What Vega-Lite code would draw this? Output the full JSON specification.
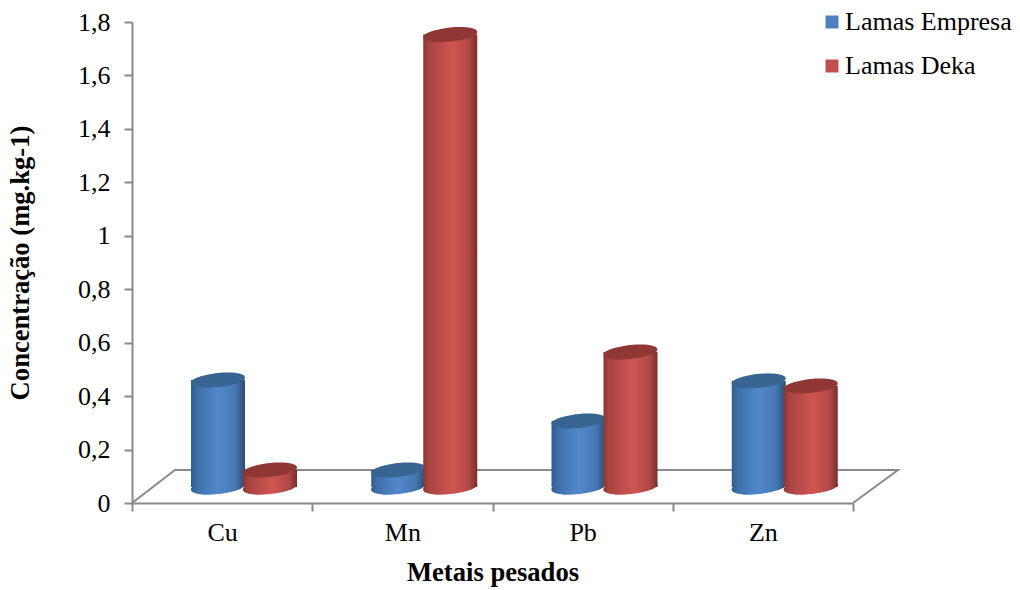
{
"$schema":"https://vega.github.io/schema/vega-lite/v6.json",
"autosize":{"type":"none"},
"padding":{"left":132,"top":22,"right":167,"bottom":87},
"width":721,"height":481,
"background":"white",
"config":{"view":{"stroke":null},"font":"Liberation Serif"},
"datasets":{
"bars":[
{"metal":"Cu","series":"Lamas Empresa","value":0.46},
{"metal":"Cu","series":"Lamas Deka","value":0.1235},
{"metal":"Mn","series":"Lamas Empresa","value":0.1235},
{"metal":"Mn","series":"Lamas Deka","value":1.753},
{"metal":"Pb","series":"Lamas Empresa","value":0.307},
{"metal":"Pb","series":"Lamas Deka","value":0.565},
{"metal":"Zn","series":"Lamas Empresa","value":0.457},
{"metal":"Zn","series":"Lamas Deka","value":0.438}
],
"floor":[
{"step":1,"fx":0,"fy":0},
{"step":2,"fx":0.0596,"fy":0.1236},
{"step":3,"fx":1.0624,"fy":0.1236},
{"step":4,"fx":1,"fy":0}
]
},
"resolve":{"scale":{"x":"independent"}},
"layer":[
{
"data":{"name":"floor"},
"mark":{"type":"line","color":"#8a8a8a","strokeWidth":2,"clip":false},
"encoding":{
"x":{"field":"fx","type":"quantitative","scale":{"domain":[0,1],"zero":false,"nice":false},"axis":null},
"y":{"field":"fy","type":"quantitative","scale":{"domain":[0,1.8],"nice":false},
"title":"Concentração (mg.kg-1)",
"axis":{"values":[0,0.2,0.4,0.6,0.8,1,1.2,1.4,1.6,1.8],"labelExpr":"replace(format(datum.value,'.1~f'),'.',',')","labelFontSize":26,"labelColor":"#000000","labelPadding":14,"labelFont":"Liberation Serif","titleFont":"Liberation Serif","titleFontSize":26.6,"titleFontWeight":"bold","titleColor":"#000000","titlePadding":43,"tickSize":8,"tickWidth":2,"tickColor":"#8a8a8a","domainColor":"#8a8a8a","domainWidth":2,"grid":false}},
"order":{"field":"step"}
}
},
{
"data":{"name":"bars"},
"encoding":{
"x":{"field":"metal","type":"nominal","sort":["Cu","Mn","Pb","Zn"],"scale":{"paddingInner":0,"paddingOuter":0},
"title":"Metais pesados",
"axis":{"labelAngle":0,"labelFontSize":26,"labelColor":"#000000","labelPadding":8,"labelFont":"Liberation Serif","titleFont":"Liberation Serif","titleFontSize":26.6,"titleFontWeight":"bold","titleColor":"#000000","titlePadding":14,"tickBand":"extent","tickSize":8,"tickWidth":2,"tickColor":"#8a8a8a","domainColor":"#8a8a8a","domainWidth":2,"grid":false}},
"xOffset":{"field":"series","type":"nominal","sort":["Lamas Empresa","Lamas Deka"],"scale":{"range":[60,164],"paddingInner":0,"paddingOuter":0}},
"y":{"field":"value","type":"quantitative","title":"Concentração (mg.kg-1)"}
},
"layer":[
{
"mark":{"type":"point","filled":true,"size":2916,"opacity":1,"shape":"M-1,0.09C-1,-0.05,-0.55,-0.2,0,-0.26C0.55,-0.31,1,-0.25,1,-0.09C1,0.05,0.55,0.2,0,0.26C-0.55,0.31,-1,0.25,-1,0.09Z"},
"encoding":{
"y":{"datum":0.06},
"color":{"field":"series","type":"nominal","sort":["Lamas Empresa","Lamas Deka"],"scale":{"domain":["Lamas Empresa","Lamas Deka"],"range":["#4f81bd","#c0504d"]},
"legend":{"title":null,"orient":"none","legendX":687,"legendY":-13,"symbolType":"square","symbolSize":169,"symbolOpacity":1,"labelFontSize":26,"labelLimit":400,"labelColor":"#000000","rowPadding":18,"labelOffset":0,"labelFont":"Liberation Serif"}}
}
},
{
"transform":[{"filter":"datum.series === 'Lamas Empresa'"}],
"mark":{"type":"bar","width":54,"color":{"gradient":"linear","x1":0,"x2":1,"y1":0,"y2":0,"stops":[{"offset":0,"color":"#2f5c92"},{"offset":0.12,"color":"#3f70ab"},{"offset":0.5,"color":"#5288c9"},{"offset":0.82,"color":"#4677b2"},{"offset":1,"color":"#2c4d75"}]}},
"encoding":{"y2":{"datum":0.06}}
},
{
"transform":[{"filter":"datum.series === 'Lamas Empresa'"}],
"mark":{"type":"point","filled":true,"size":2916,"opacity":1,"color":{"gradient":"linear","x1":0,"x2":1,"y1":0,"y2":0,"stops":[{"offset":0,"color":"#2f5c92"},{"offset":0.12,"color":"#3f70ab"},{"offset":0.5,"color":"#5288c9"},{"offset":0.82,"color":"#4677b2"},{"offset":1,"color":"#2c4d75"}]},"shape":"M-1,0.09C-1,-0.05,-0.55,-0.2,0,-0.26C0.55,-0.31,1,-0.25,1,-0.09C1,0.05,0.55,0.2,0,0.26C-0.55,0.31,-1,0.25,-1,0.09Z"},
"encoding":{"y":{"datum":0.06}}
},
{
"transform":[{"filter":"datum.series === 'Lamas Empresa'"}],
"mark":{"type":"point","filled":true,"size":2916,"opacity":1,"color":"#386492","shape":"M-1,0.09C-1,-0.05,-0.55,-0.2,0,-0.26C0.55,-0.31,1,-0.25,1,-0.09C1,0.05,0.55,0.2,0,0.26C-0.55,0.31,-1,0.25,-1,0.09Z"}
},
{
"transform":[{"filter":"datum.series === 'Lamas Deka'"}],
"mark":{"type":"bar","width":54,"color":{"gradient":"linear","x1":0,"x2":1,"y1":0,"y2":0,"stops":[{"offset":0,"color":"#8c3533"},{"offset":0.1,"color":"#a84441"},{"offset":0.55,"color":"#cf5652"},{"offset":0.85,"color":"#b04845"},{"offset":1,"color":"#7a2e2c"}]}},
"encoding":{"y2":{"datum":0.06}}
},
{
"transform":[{"filter":"datum.series === 'Lamas Deka'"}],
"mark":{"type":"point","filled":true,"size":2916,"opacity":1,"color":{"gradient":"linear","x1":0,"x2":1,"y1":0,"y2":0,"stops":[{"offset":0,"color":"#8c3533"},{"offset":0.1,"color":"#a84441"},{"offset":0.55,"color":"#cf5652"},{"offset":0.85,"color":"#b04845"},{"offset":1,"color":"#7a2e2c"}]},"shape":"M-1,0.09C-1,-0.05,-0.55,-0.2,0,-0.26C0.55,-0.31,1,-0.25,1,-0.09C1,0.05,0.55,0.2,0,0.26C-0.55,0.31,-1,0.25,-1,0.09Z"},
"encoding":{"y":{"datum":0.06}}
},
{
"transform":[{"filter":"datum.series === 'Lamas Deka'"}],
"mark":{"type":"point","filled":true,"size":2916,"opacity":1,"color":"#8f3735","shape":"M-1,0.09C-1,-0.05,-0.55,-0.2,0,-0.26C0.55,-0.31,1,-0.25,1,-0.09C1,0.05,0.55,0.2,0,0.26C-0.55,0.31,-1,0.25,-1,0.09Z"}
}
]
}
]
}
